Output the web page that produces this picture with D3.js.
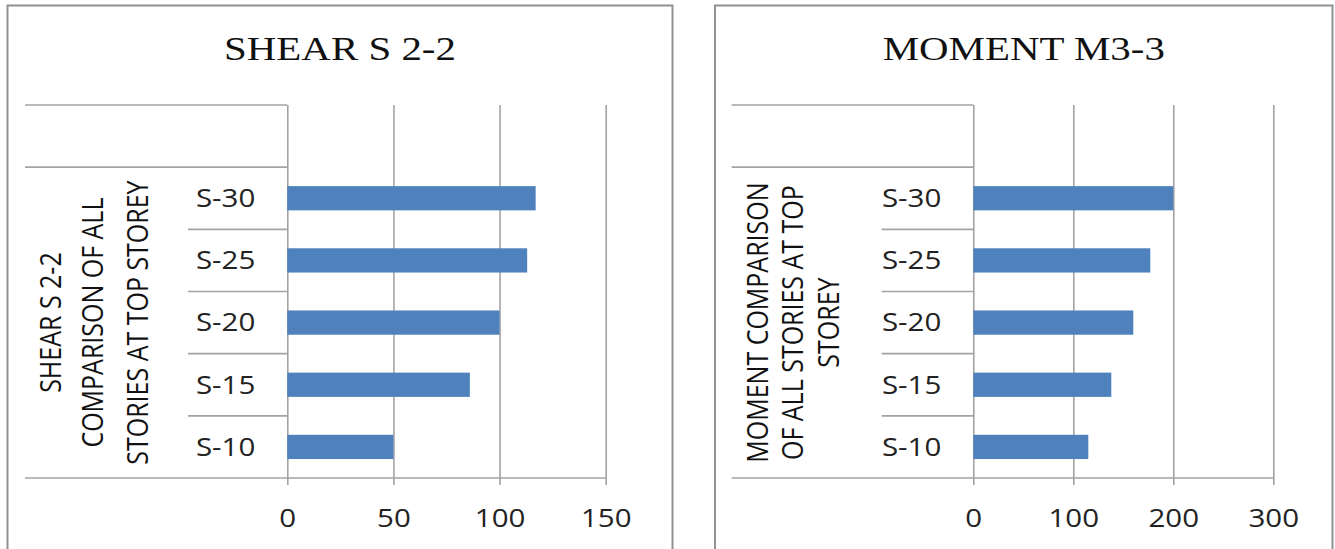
<!DOCTYPE html>
<html>
<head>
<meta charset="utf-8">
<script src="https://cdn.jsdelivr.net/npm/d3@7"></script>
<style>
  body { margin: 0; background: #fff; }
  svg { display: block; }
</style>
</head>
<body>
<div id="chart"></div>
<script>
// dados (topo do pavimento)
const stories = ["S-10", "S-15", "S-20", "S-25", "S-30"];
const shearValues = [50, 86, 100, 113, 117];
const momentValues = [115, 138, 160, 177, 200];

const shearTicks = [0, 50, 100, 150];
const momentTicks = [0, 100, 200, 300];

const shearTitle = "SHEAR S 2-2";
const momentTitle = "MOMENT M3-3";
const shearAxisTitle = ["SHEAR S 2-2", "COMPARISON OF ALL", "STORIES AT TOP STOREY"];
const momentAxisTitle = ["MOMENT COMPARISON", "OF ALL STORIES AT TOP", "STOREY"];

const W = 1335, H = 549;
const sx = 1.18;          // the original picture is a bit stretched sideways
const sansFont = "'Open Sans', Calibri, sans-serif";
const gridColor = "#a3a3a3";
const barColor = "#4f81bd";

const svg = d3.select("#chart").append("svg")
  .attr("width", W)
  .attr("height", H);

function drawChart(opt) {
  const g = svg.append("g");

  // outer frame
  g.append("rect")
    .attr("x", opt.boxLeft).attr("y", 5.5)
    .attr("width", opt.boxRight - opt.boxLeft)
    .attr("height", H + 20)
    .attr("fill", "none")
    .attr("stroke", "#919191")
    .attr("stroke-width", 2);

  // title
  g.append("text")
    .attr("transform", `translate(${(opt.boxLeft + opt.boxRight) / 2}, 60) scale(1.24, 1)`)
    .attr("text-anchor", "middle")
    .style("font-family", "'Liberation Serif', 'Times New Roman', serif")
    .style("font-size", "33px")
    .attr("fill", "#111")
    .text(opt.title);

  // scales
  const x = d3.scaleLinear()
    .domain([opt.ticks[0], opt.ticks[opt.ticks.length - 1]])
    .range([opt.x0, opt.x1]);

  // blank slot on top, like the empty group in the source
  const domain = [""].concat(stories.slice().reverse());
  const y = d3.scaleBand().domain(domain).range([105, 478]).padding(0);
  const barH = y.bandwidth() * 0.39;

  // vertical gridlines + value labels
  const xAxis = g.append("g")
    .attr("transform", `translate(0, 485)`)
    .call(d3.axisBottom(x).tickValues(opt.ticks).tickSize(-380).tickFormat(d3.format("d")));
  xAxis.select(".domain").remove();
  xAxis.selectAll("line").attr("stroke", gridColor).attr("stroke-width", 1.6);
  xAxis.selectAll("text")
    .attr("y", 33).attr("dy", "0.35em")
    .attr("transform", `scale(${sx}, 1)`)
    .style("font-family", sansFont)
    .style("font-size", "25px")
    .attr("fill", "#222");

  // bottom axis line
  g.append("line")
    .attr("x1", opt.outerLeft).attr("x2", opt.x1)
    .attr("y1", 478).attr("y2", 478)
    .attr("stroke", gridColor).attr("stroke-width", 1.6);

  // category separators
  const edges = domain.map(d => y(d));
  edges.forEach((yy, i) => {
    const isGroup = i <= 1;
    g.append("line")
      .attr("x1", isGroup ? opt.outerLeft : opt.sepLeft).attr("x2", opt.x0)
      .attr("y1", yy).attr("y2", yy)
      .attr("stroke", gridColor).attr("stroke-width", 1.6);
  });

  // bars
  g.selectAll("rect.bar")
    .data(stories.map((s, i) => ({ s, v: opt.values[i] })))
    .enter().append("rect")
    .attr("class", "bar")
    .attr("x", x(0))
    .attr("y", d => y(d.s) + (y.bandwidth() - barH) / 2)
    .attr("width", d => x(d.v) - x(0))
    .attr("height", barH)
    .attr("fill", barColor);

  // category labels
  const yAxis = g.append("g")
    .attr("transform", `translate(${opt.x0}, 0)`)
    .call(d3.axisLeft(y).tickSize(0).tickPadding(0));
  yAxis.select(".domain").remove();
  yAxis.selectAll("text")
    .attr("x", null).attr("dy", "0.35em")
    .attr("transform", `translate(-32, 0) scale(${sx}, 1)`)
    .style("font-family", sansFont)
    .style("font-size", "25px")
    .attr("fill", "#222");

  // rotated group label
  const midY = (y(stories[stories.length - 1]) + 478) / 2;
  opt.axisTitle.forEach((line, i) => {
    g.append("text")
      .attr("transform", `translate(${opt.labelX[i]}, ${midY}) scale(${sx}, 1) rotate(-90)`)
      .attr("text-anchor", "middle")
      .attr("dy", "0.35em")
      .style("font-family", sansFont)
      .style("font-size", "25px")
      .attr("fill", "#111")
      .text(line);
  });
}

drawChart({
  title: shearTitle,
  axisTitle: shearAxisTitle,
  values: shearValues,
  ticks: shearTicks,
  boxLeft: 7.5, boxRight: 672.5,
  outerLeft: 25, sepLeft: 188,
  x0: 287.3, x1: 605.7,
  labelX: [51, 93, 137.5]
});

drawChart({
  title: momentTitle,
  axisTitle: momentAxisTitle,
  values: momentValues,
  ticks: momentTicks,
  boxLeft: 715, boxRight: 1332.5,
  outerLeft: 731.7, sepLeft: 881.7,
  x0: 973.3, x1: 1273.3,
  labelX: [758, 793, 829]
});
</script>
</body>
</html>
